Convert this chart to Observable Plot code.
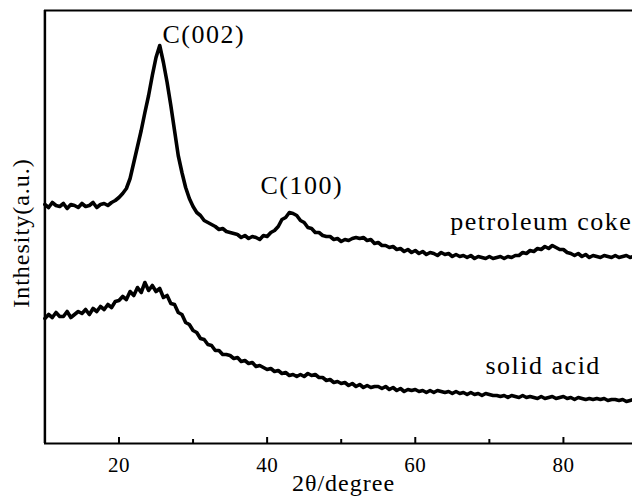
<!DOCTYPE html>
<html>
<head>
<meta charset="utf-8">
<script src="https://cdn.jsdelivr.net/npm/d3@7"></script>
<script src="https://cdn.jsdelivr.net/npm/@observablehq/plot@0.6"></script>
<style>
  html, body { margin: 0; padding: 0; background: #fff; }
  #chart svg { overflow: visible; }
</style>
</head>
<body>
<div id="chart"></div>
<script>
// ---- data ----
const angleStart = 10;   // 2θ of first sample
const angleStep = 0.5;   // sampling step in 2θ

// petroleum coke, 2θ = 10.0 … 89.5
const cokeIntensity = [
  239,236,241,238,237,240,235,239,238,236,
  240,237,238,241,236,239,240,238,241,243,
  246,250,255,265,281,297,313,331,348,368,
  386,398,381,361,338,313,288,271,256,245,
  237,231,228,223,221,219,217,214,215,212,
  211,210,209,206,208,205,207,206,204,208,
  207,211,213,217,224,226,231,230,228,223,
  221,216,215,211,211,208,207,207,204,205,
  202,204,203,205,206,205,206,203,204,200,
  201,198,198,196,197,194,195,192,194,191,
  193,190,192,189,191,190,188,191,189,190,
  187,189,187,188,186,188,185,187,186,185,
  187,185,186,187,185,187,186,188,188,191,
  190,193,192,195,194,197,195,198,196,194,
  194,191,190,188,190,187,189,186,188,187,
  186,188,187,186,188,186,187,188,186,187
];

// solid acid, 2θ = 10.0 … 89.5
const acidIntensity = [
  125,129,126,131,127,127,132,126,129,132,
  130,134,129,135,132,137,134,139,136,142,
  143,147,144,152,148,156,151,161,153,158,
  152,155,146,148,140,139,131,129,121,119,
  113,111,105,104,99,98,93,93,89,89,
  88,85,86,82,83,80,81,77,78,76,
  74,75,72,73,70,71,68,69,67,69,
  67,70,68,69,66,66,63,64,61,62,
  60,61,58,60,57,59,56,58,56,57,
  57,55,57,54,56,53,55,52,54,53,
  54,52,53,51,53,51,53,52,51,52,
  50,52,50,51,49,51,49,50,48,50,
  49,48,48,47,48,46,48,47,46,48,
  46,47,46,45,47,45,46,47,45,46,
  47,45,46,44,46,45,44,45,44,45,
  44,45,43,44,44,43,44,42,43,44
];

const xTicks = [20, 40, 60, 80];
const xMinorTicks = [30, 50, 70];

const annotationLabels = ["C(002)", "C(100)", "petroleum coke", "solid acid"];
const annotationAngles = [25.87, 39.1, 89.3, 69.48];
const annotationIntensities = [401, 250, 214, 70];
const annotationAnchors = ["start", "start", "end", "start"];

const xLabel = "2θ/degree";
const yLabel = "Inthesity(a.u.)";

// ---- build tables ----
const toRows = (arr, name) => arr.map((v, i) => ({sample: name, angle: angleStart + i * angleStep, intensity: v}));
const coke = toRows(cokeIntensity, "petroleum coke");
const acid = toRows(acidIntensity, "solid acid");
const annotations = annotationLabels.map((t, i) => ({
  label: t, angle: annotationAngles[i], intensity: annotationIntensities[i], anchor: annotationAnchors[i]
}));

const font = "'Liberation Serif', 'Times New Roman', serif";

const chart = Plot.plot({
  width: 632,
  height: 498,
  marginLeft: 44,
  marginTop: 10,
  marginBottom: 55,
  marginRight: 0,
  style: {fontFamily: font, fontSize: "21px", color: "#000", background: "#fff"},
  x: {domain: [10, 90], range: [44.4, 637], label: null},
  y: {domain: [0, 433], range: [443, 10], axis: null},
  marks: [
    Plot.line(coke, {x: "angle", y: "intensity", stroke: "#000", strokeWidth: 3.6, strokeLinejoin: "round"}),
    Plot.line(acid, {x: "angle", y: "intensity", stroke: "#000", strokeWidth: 3.6, strokeLinejoin: "round"}),
    Plot.ruleY([0], {stroke: "#000", strokeWidth: 2.2}),
    Plot.ruleY([433], {stroke: "#000", strokeWidth: 2.2}),
    Plot.ruleX([10], {stroke: "#000", strokeWidth: 2.5}),
    Plot.ruleX(xTicks, {y1: 0, y2: 6, stroke: "#000", strokeWidth: 2}),
    Plot.ruleX(xMinorTicks, {y1: 0, y2: 4, stroke: "#000", strokeWidth: 2}),
    Plot.axisX({ticks: xTicks, tickSize: 0, tickPadding: 14, fontSize: 21, label: null}),
    Plot.text(annotations.filter(d => d.anchor === "start"), {
      x: "angle", y: "intensity", text: "label", textAnchor: "start", lineAnchor: "bottom",
      fontSize: 26, fill: "#000"
    }),
    Plot.text(annotations.filter(d => d.anchor === "end"), {
      x: "angle", y: "intensity", text: "label", textAnchor: "end", lineAnchor: "bottom",
      fontSize: 26, fill: "#000"
    }),
    Plot.text([xLabel], {frameAnchor: "bottom", dx: 5, dy: 47, textAnchor: "middle", lineAnchor: "bottom", fontSize: 24, fill: "#000"}),
    Plot.text([yLabel], {frameAnchor: "left", rotate: -90, dx: -16, dy: 6, textAnchor: "middle", lineAnchor: "bottom", fontSize: 24, fill: "#000"})
  ]
});

d3.select(chart).selectAll("text").style("letter-spacing", function () {
  const fs = parseFloat(this.getAttribute("font-size") || d3.select(this.parentNode).attr("font-size") || 21);
  return fs >= 26 ? "1.5px" : fs >= 24 ? "1px" : "0.5px";
});

document.getElementById("chart").appendChild(chart);
</script>
</body>
</html>
